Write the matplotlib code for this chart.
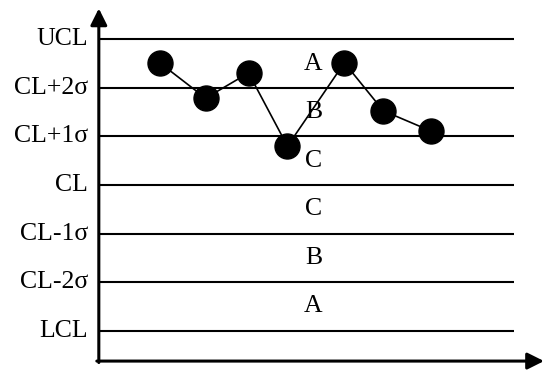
import matplotlib
matplotlib.use("Agg")
import matplotlib.pyplot as plt

plt.rcParams['font.family'] = ['Liberation Serif', 'DejaVu Serif']

# control limits, in sigma units from the centre line
levels = [3, 2, 1, 0, -1, -2, -3]
level_labels = ['UCL', 'CL+2σ', 'CL+1σ', 'CL', 'CL-1σ', 'CL-2σ', 'LCL']

# zone names, from top band to bottom band
zone_names = ['A', 'B', 'C', 'C', 'B', 'A']

# sample points (time position, value in sigma)
sample_x = [1.22, 2.14, 3.0, 3.78, 4.92, 5.70, 6.66]
sample_y = [2.52, 1.79, 2.31, 0.80, 2.52, 1.53, 1.11]

fig = plt.figure(figsize=(5.44, 3.70), dpi=100)
ax = fig.add_axes([0, 0, 1, 1])
ax.set_xlim(-1.98, 8.92)
ax.set_ylim(-3.814, 3.814)
ax.axis('off')

line_end = 8.32
for lev, lab in zip(levels, level_labels):
    ax.plot([0, line_end], [lev, lev], color='black', lw=1.5, solid_capstyle='butt')
    ax.text(-0.22, lev, lab, ha='right', va='center', fontsize=18.5)

for i, name in enumerate(zone_names):
    mid = (levels[i] + levels[i + 1]) / 2
    ax.text(4.3, mid, name, ha='center', va='center', fontsize=18.5)

ax.plot(sample_x, sample_y, color='black', lw=1.2, marker='o',
        markersize=18, markerfacecolor='black', markeredgecolor='black')

# axes with arrow heads
x_axis_y = -3.63
arrow = dict(arrowstyle='-|>', lw=2.2, color='black', mutation_scale=25,
             shrinkA=0, shrinkB=0)
ax.annotate('', xy=(0, 3.64), xytext=(0, x_axis_y - 0.03), arrowprops=arrow)
ax.annotate('', xy=(8.92, x_axis_y), xytext=(-0.04, x_axis_y), arrowprops=arrow)

fig.savefig('out.png', dpi=100)
